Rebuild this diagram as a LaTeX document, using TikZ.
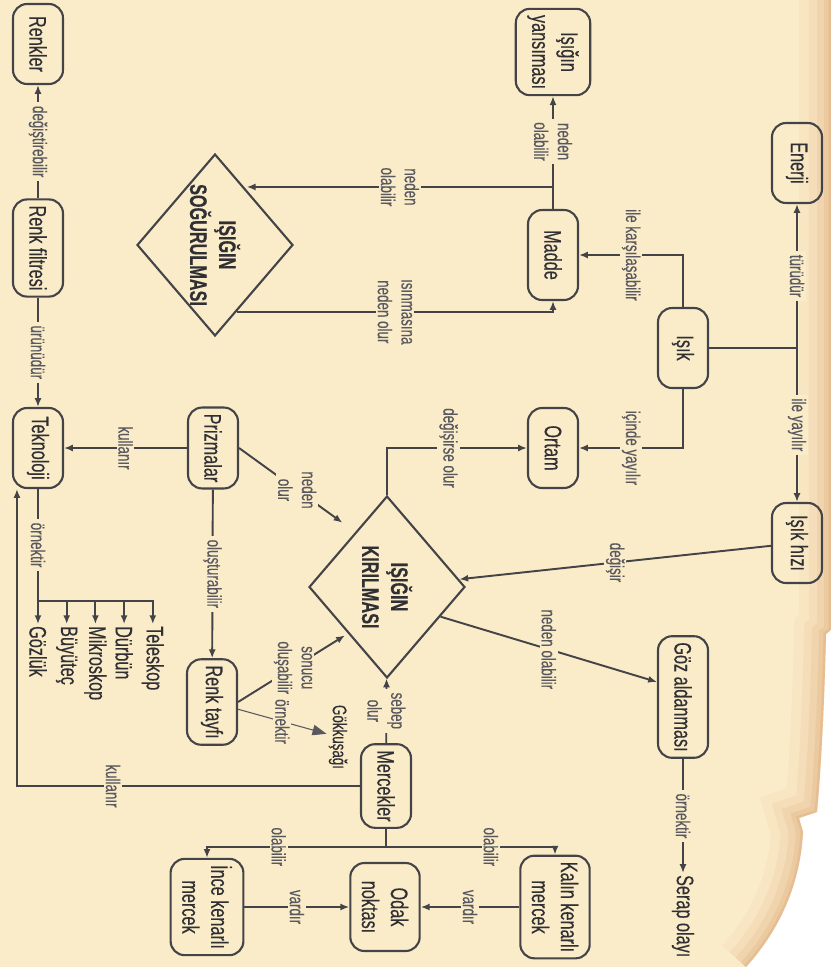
\documentclass[tikz,border=0pt]{standalone}
\usepackage{fontspec}
\setmainfont{Liberation Sans}[FakeStretch=0.68, FakeBold=0.3]
\usetikzlibrary{arrows.meta, positioning, shapes.geometric, calc}

\definecolor{paper}{RGB}{251,236,201}
\definecolor{paperedge}{RGB}{214,150,98}
\definecolor{ink}{RGB}{68,68,72}
\definecolor{inktext}{RGB}{48,48,52}
\definecolor{relink}{RGB}{88,88,94}

\newcommand{\conceptfont}{\fontsize{13.6}{16.5}\selectfont}
\newcommand{\relfont}{\fontsize{11.2}{13.5}\selectfont}
% right border of the sheet
\newcommand{\pageedge}{(0,831) -- (630,831) -- (634,826)
  .. controls (720,824) and (780,820) .. (812,817) -- (818,799) -- (832,803)
  .. controls (890,800) and (935,775) .. (967,746)}

\tikzset{
  concept/.style={draw=ink, line width=1.2pt, rounded corners=8pt, text=inktext,
    font=\conceptfont, align=center, minimum width=1.6cm, minimum height=1cm,
    inner xsep=3.5pt, inner ysep=6.5pt},
  event/.style={diamond, draw=ink, line width=1.2pt, aspect=1.16,
    minimum width=3.64cm, minimum height=3.12cm, inner sep=0pt,
    text=inktext, font=\conceptfont\bfseries, align=center},
  term/.style={text=inktext, font=\conceptfont, inner sep=1pt},
  rel/.style={fill=paper, text=relink, font=\relfont, align=center,
    inner xsep=2pt, inner ysep=1pt},
  wire/.style={draw=ink, line width=1.1pt},
}

\begin{document}
\begin{tikzpicture}[x=0.02cm, y=0.02cm, rotate=-90, transform shape,
    >={Latex[length=5pt, width=4pt]}]
  \useasboundingbox (0,0) rectangle (967,831);

  % sheet
  \fill[white] (0,0) rectangle (967,831);
  \fill[paper] (0,0) -- \pageedge -- (967,0) -- cycle;
  \begin{scope}
    \clip (0,0) -- \pageedge -- (967,0) -- cycle;
    \foreach \w/\o in {64/0.07, 44/0.09, 28/0.12, 14/0.16, 5/0.22}
      \draw[paperedge, line width=\w*0.02cm, opacity=\o] \pageedge;
  \end{scope}

  % concepts
  \node[concept] (enerji) at (163,797) {Enerji};
  \node[concept] (isik) at (348,683) {Işık};
  \node[concept] (hiz) at (543,797) {Işık hızı};
  \node[concept] (yansima) at (52,553) {Işığın\\yansıması};
  \node[concept, minimum width=1.8cm] (madde) at (255,553) {Madde};
  \node[concept] (ortam) at (448,553) {Ortam};
  \node[concept] (goz) at (697,683) {Göz aldanması};
  \node[term, anchor=west] (serap) at (873,683) {Serap olayı};

  \node[event] (sogurulma) at (245,215) {IŞIĞIN\\SOĞURULMASI};
  \node[event] (kirilma) at (587,387) {IŞIĞIN\\KIRILMASI};

  \node[concept] (renkler) at (44,38) {Renkler};
  \node[concept] (filtre) at (248,38) {Renk filtresi};
  \node[concept] (tekno) at (448,38) {Teknoloji};
  \node[concept] (prizma) at (448,213) {Prizmalar};
  \node[concept] (tayf) at (702,212) {Renk tayfı};
  \node[term, font=\relfont] (gokkusagi) at (737,338) {Gökkuşağı};

  \node[concept] (mercek) at (786,386) {Mercekler};
  \node[concept] (kalin) at (907,555) {Kalın kenarlı\\mercek};
  \node[concept, minimum width=1.76cm] (odak) at (907,385) {Odak\\noktası};
  \node[concept] (ince) at (907,207) {İnce kenarlı\\mercek};

  % light
  \coordinate (j1) at (isik |- enerji);
  \draw[wire] (isik) -- (j1);
  \draw[wire, ->] (j1) -- node[rel] {türüdür} (enerji);
  \draw[wire, ->] (j1) -- node[rel] {ile yayılır} (hiz);
  \draw[wire, ->] (isik) -| node[rel, pos=0.75] {ile karşılaşabilir} (madde);
  \draw[wire, ->] (isik) -| node[rel, pos=0.75] {içinde yayılır} (ortam);
  \draw[wire, ->] (hiz) -- node[rel] {değişir} (kirilma);

  % matter
  \coordinate (j2) at ($(madde.west)+(-22,0)$);
  \draw[wire] (madde) -- (j2);
  \draw[wire, ->] (j2) -- node[rel] {neden\\olabilir} (yansima);
  \draw[wire, ->] (j2) -- node[rel] {neden\\olabilir} (j2 |- sogurulma.150);
  \draw[wire, ->] (sogurulma.18) |- node[rel, pos=0.25] {ısınmasına\\neden olur} (madde);

  % refraction
  \draw[wire, ->] (kirilma.west) -| node[rel, pos=0.72] {değişirse olur} (ortam);
  \draw[wire, ->] (kirilma.61) -- node[rel] {neden olabilir} (goz.240);
  \draw[wire, ->] (goz) -- node[rel] {örnektir} (serap);

  % prisms and colours
  \draw[wire, ->] (prizma) -- node[rel] {kullanır} (tekno);
  \draw[wire, ->, shorten >=9pt] (prizma.north) -- node[rel] {neden\\olur} (kirilma.210);
  \draw[wire, ->] (prizma) -- node[rel] {oluşturabilir} (tayf);
  \draw[wire, ->, shorten >=2pt] (tayf.north) -- node[rel] {sonucu\\oluşabilir} (kirilma.320);
  \draw[draw=relink, line width=0.6pt, -{Triangle[length=8pt, width=6pt]}]
    (tayf) -- node[rel] {örnektir} (gokkusagi);
  \draw[wire, ->] (filtre) -- node[rel] {değiştirebilir} (renkler);
  \draw[wire, ->] (filtre) -- node[rel] {ürünüdür} (tekno);

  % lenses
  \draw[wire, ->] (mercek) -- node[rel] {sebep\\olur} (kirilma);
  \draw[wire, ->] (mercek) |- node[rel, pos=0.36] {kullanır}
    ($(tekno.south east)+(0,5)$);
  \coordinate (j3) at ($(mercek.east)+(18,0)$);
  \draw[wire] (mercek) -- (j3);
  \draw[wire, ->] (j3) |- node[rel, pos=0.31] {olabilir} (kalin);
  \draw[wire, ->] (j3) |- node[rel, pos=0.30] {olabilir} (ince);
  \draw[wire, ->] (kalin) -- node[rel] {vardır} (odak);
  \draw[wire, ->] (ince) -- node[rel] {vardır} (odak);

  % instruments
  \coordinate (brk) at ($(tekno.east)+(112,0)$);
  \draw[wire] (tekno) -- node[rel] {örnektir} (brk) -- ++(0,116);
  \foreach \tool [count=\k from 0] in {Gözlük, Büyüteç, Mikroskop, Dürbün, Teleskop} {
    \node[term, anchor=west] (alet\k) at ($(brk)+(23,28.7*\k)$) {\tool};
    \draw[wire, ->] (brk |- alet\k) -- (alet\k);
  }
\end{tikzpicture}
\end{document}
